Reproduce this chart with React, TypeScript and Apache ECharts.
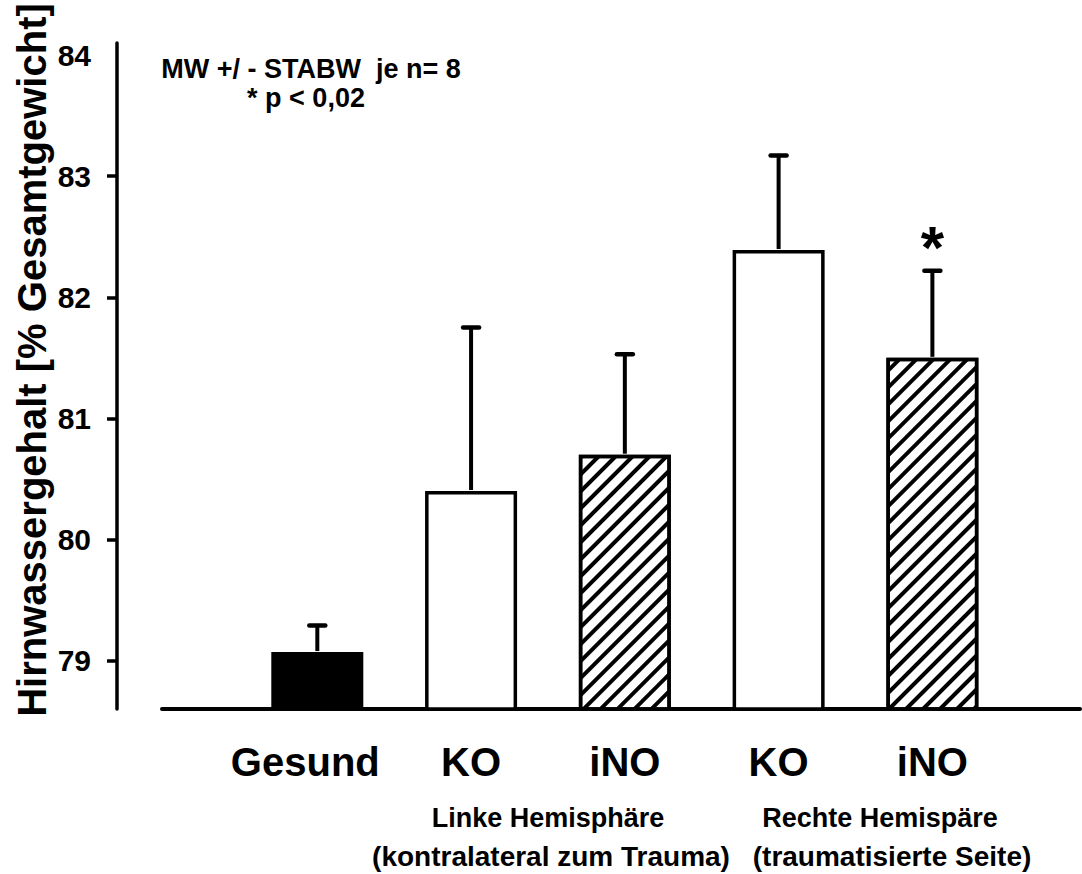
import React, { useEffect, useRef } from "react";
import * as echarts from "echarts";

const categories = ["Gesund", "KO", "iNO", "KO", "iNO"];
const means = [79.07, 80.4, 80.7, 82.39, 81.5];
const sdUpper = [0.22, 1.35, 0.83, 0.78, 0.72];
const fills = ["solid", "open", "hatch", "open", "hatch"];
const significance = ["", "", "", "", "*"];
const yTickValues = [79, 80, 81, 82, 83];
const yLabelValues = [79, 80, 81, 82, 83, 84];
const yAxisTitle = "Hirnwassergehalt [% Gesamtgewicht]";
const noteLines = ["MW +/ - STABW  je n= 8", "* p < 0,02"];
const groupLeft = ["Linke Hemisphäre", "(kontralateral zum Trauma)"];
const groupRight = ["Rechte Hemispäre", "(traumatisierte Seite)"];

const FONT = '"Liberation Sans", Arial, Helvetica, sans-serif';

export default function App() {
  const ref = useRef<HTMLDivElement>(null);

  useEffect(() => {
    if (!ref.current) return;
    const chart = echarts.init(ref.current, null, { renderer: "svg" });

    const hatchDecal = {
      symbol: "rect",
      symbolSize: 1,
      color: "#000",
      backgroundColor: "#fff",
      dashArrayX: [1, 0],
      dashArrayY: [3.5, 8],
      rotation: -Math.PI / 4,
    };

    const barData = means.map((v, i) => {
      const f = fills[i];
      const itemStyle: any = {
        color: f === "solid" ? "#000" : "#fff",
        borderColor: "#000",
        borderWidth: 3.5,
      };
      if (f === "hatch") itemStyle.decal = hatchDecal;
      return { value: [i, v], itemStyle };
    });

    const errData = means.map((v, i) => [i, v, v + sdUpper[i], i]);

    const textStyleBold = (size: number) => ({
      fontFamily: FONT,
      fontWeight: "bold" as const,
      fontSize: size,
      fill: "#000",
    });

    chart.setOption({
      animation: false,
      backgroundColor: "#fff",
      grid: { left: 162, right: 2, top: 43, bottom: 165, containLabel: false },
      xAxis: {
        type: "value",
        min: -1.01,
        max: 4.96,
        axisLine: { show: true, onZero: false, lineStyle: { color: "#000", width: 4 } },
        axisTick: { show: false },
        splitLine: { show: false },
        axisLabel: {
          customValues: [0, 1, 2, 3, 4],
          formatter: (v: number) => {
            const i = Math.round(v);
            const name = categories[i] ?? "";
            return i === 0 ? "{first|" + name + "}" : name;
          },
          rich: {
            first: {
              fontFamily: FONT,
              fontWeight: "bold",
              fontSize: 40,
              color: "#000",
              padding: [0, 24, 0, 0],
            },
          },
          fontFamily: FONT,
          fontWeight: "bold",
          fontSize: 40,
          color: "#000",
          margin: 33,
        },
      },
      yAxis: {
        type: "value",
        min: 78.6,
        max: 84.1,
        offset: 45,
        axisLine: { show: true, onZero: false, lineStyle: { color: "#000", width: 3.5 } },
        axisTick: {
          show: true,
          customValues: yTickValues,
          length: 10,
          lineStyle: { color: "#000", width: 3.5 },
        },
        splitLine: { show: false },
        axisLabel: {
          customValues: yLabelValues,
          fontFamily: FONT,
          fontWeight: "bold",
          fontSize: 30,
          color: "#000",
          margin: 26,
        },
      },
      series: [
        {
          type: "bar",
          data: barData,
          barWidth: 92,
          z: 2,
        },
        {
          type: "custom",
          data: errData,
          z: 3,
          renderItem: (params: any, api: any) => {
            const idx = api.value(3);
            const base = api.coord([api.value(0), api.value(1)]);
            const top = api.coord([api.value(0), api.value(2)]);
            const children: any[] = [
              {
                type: "line",
                shape: { x1: base[0], y1: base[1] - 1, x2: top[0], y2: top[1] },
                style: { stroke: "#000", lineWidth: 4 },
              },
              {
                type: "line",
                shape: { x1: top[0] - 8, y1: top[1], x2: top[0] + 8, y2: top[1] },
                style: { stroke: "#000", lineWidth: 4.5, lineCap: "round" },
              },
            ];
            const sig = significance[idx];
            if (sig) {
              children.push({
                type: "text",
                x: top[0],
                y: top[1] - 23,
                style: {
                  text: sig,
                  fontFamily: FONT,
                  fontWeight: "bold",
                  fontSize: 60,
                  fill: "#000",
                  align: "center",
                  verticalAlign: "middle",
                },
              });
            }
            return { type: "group", children };
          },
        },
      ],
      graphic: [
        {
          type: "text",
          x: 32,
          y: 360,
          rotation: Math.PI / 2,
          style: { text: yAxisTitle, ...textStyleBold(40), align: "center", verticalAlign: "middle" },
        },
        {
          type: "text",
          x: 311,
          y: 69,
          style: { text: noteLines[0], ...textStyleBold(27), align: "center", verticalAlign: "middle" },
        },
        {
          type: "text",
          x: 306,
          y: 98,
          style: { text: noteLines[1], ...textStyleBold(27), align: "center", verticalAlign: "middle" },
        },
        {
          type: "text",
          x: 548,
          y: 818,
          style: { text: groupLeft[0], ...textStyleBold(27), align: "center", verticalAlign: "middle" },
        },
        {
          type: "text",
          x: 551,
          y: 856,
          style: { text: groupLeft[1], ...textStyleBold(28), align: "center", verticalAlign: "middle" },
        },
        {
          type: "text",
          x: 880,
          y: 818,
          style: { text: groupRight[0], ...textStyleBold(27), align: "center", verticalAlign: "middle" },
        },
        {
          type: "text",
          x: 892,
          y: 856,
          style: { text: groupRight[1], ...textStyleBold(28), align: "center", verticalAlign: "middle" },
        },
      ],
    });

    return () => chart.dispose();
  }, []);

  return (
    <div
      ref={ref}
      style={{ position: "fixed", left: 0, top: 0, width: 1082, height: 874, background: "#fff" }}
    />
  );
}
